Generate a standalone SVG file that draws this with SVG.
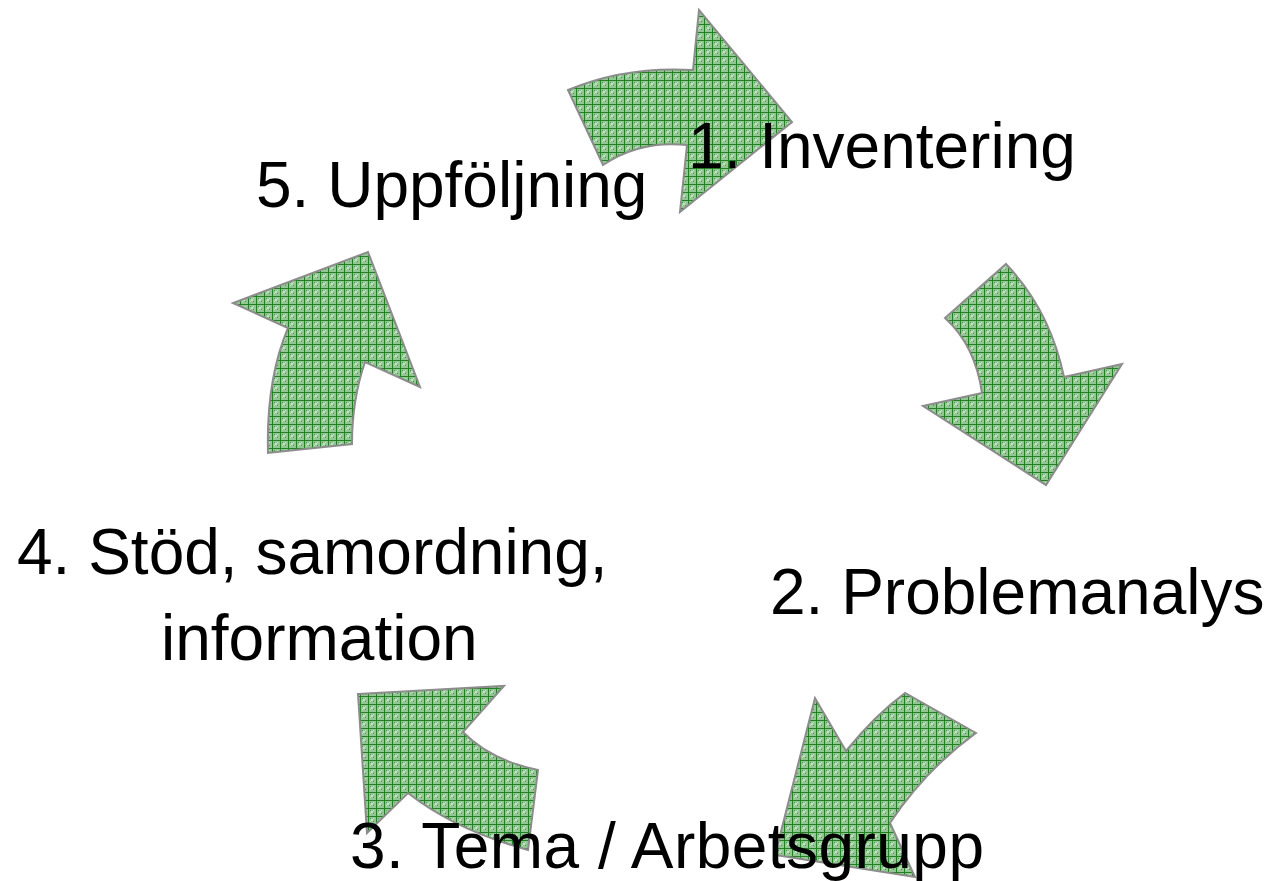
<svg xmlns="http://www.w3.org/2000/svg" width="1270" height="881" viewBox="0 0 1270 881">
<defs>
<pattern id="grid" width="8" height="8" patternUnits="userSpaceOnUse">
<rect width="8" height="8" fill="#92c692"/>
<rect x="2" y="2" width="1" height="1" fill="#4a9a4a"/>
<rect x="5" y="5" width="1" height="1" fill="#4a9a4a"/>
<rect x="3" y="3" width="2" height="2" fill="#c4e2c4"/>
<rect x="2" y="5" width="1" height="1" fill="#c4e2c4"/>
<rect x="5" y="2" width="1" height="1" fill="#c4e2c4"/>
<rect x="0" y="0" width="8" height="1" fill="#237f23"/>
<rect x="0" y="0" width="1" height="8" fill="#237f23"/>
</pattern>
<style>
.arrow{fill:url(#grid);stroke:#8c8c8c;stroke-width:2;stroke-linejoin:miter}
.label{font-family:"Liberation Sans",Arial,sans-serif;font-size:64px;fill:#000}
</style>
</defs>
<g id="connectors">
<path id="arrow1" class="arrow" d="M568,90 Q625,66 693,70 L699,10 L792,122 L680,212 L687,145 Q640,140 603,165 Z"/>
<path id="arrow2" class="arrow" d="M1006,264 Q1050,310 1064,377 L1122,364 L1046,485 L923,406 L982,393 Q975,345 945,318 Z"/>
<path id="arrow3" class="arrow" d="M976,733 Q925,770 890,823 L915,877 L775,855 L815,698 L846,751 Q875,715 905,693 Z"/>
<path id="arrow4" class="arrow" d="M358,694 L504,686 L463,732 Q490,760 538,770 L528,850 Q455,830 408,793 L367,833 Z"/>
<path id="arrow5" class="arrow" d="M268,453 Q266,380 288,328 L233,303 L368,252 L420,387 L365,362 Q352,400 352,444 Z"/>
</g>
<g id="node1"><text class="label" x="688" y="168">1. Inventering</text></g>
<g id="node2"><text class="label" x="770" y="614">2. Problemanalys</text></g>
<g id="node3"><text class="label" x="350" y="868" textLength="634" lengthAdjust="spacing">3. Tema / Arbetsgrupp</text></g>
<g id="node4"><text class="label" x="17" y="574">4. Stöd, samordning,</text><text class="label" x="161" y="660">information</text></g>
<g id="node5"><text class="label" x="256" y="207">5. Uppföljning</text></g>
</svg>
